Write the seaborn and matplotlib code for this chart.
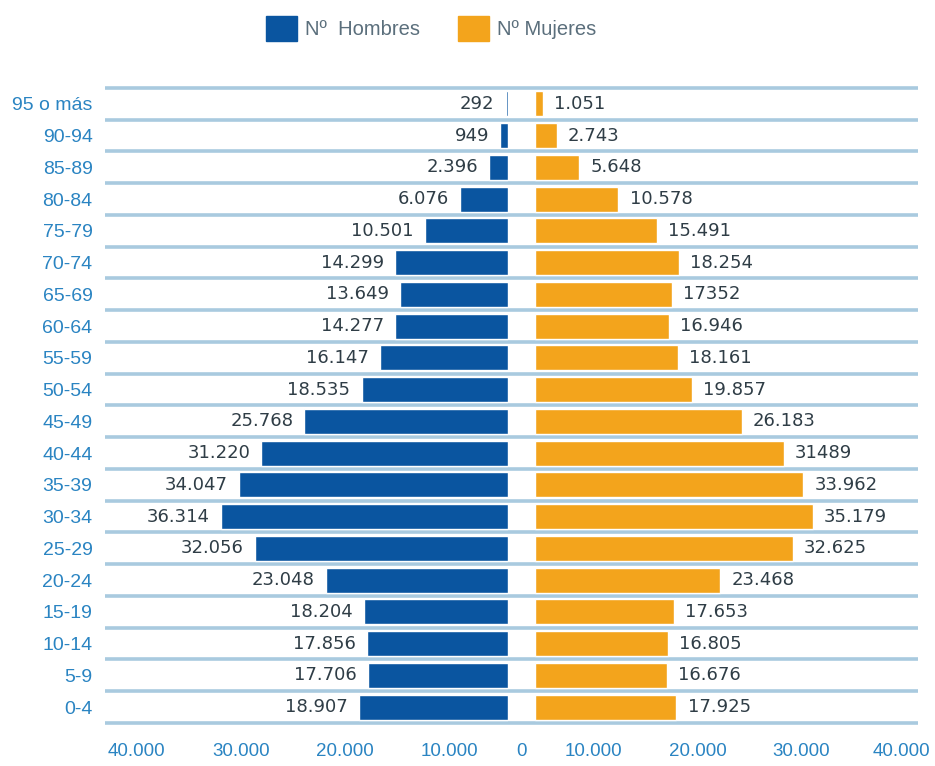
import seaborn as sns
import matplotlib.pyplot as plt
from matplotlib.patches import Patch
import pandas as pd
import numpy as np

# --- data (top row first) ---
edades = ["95 o más", "90-94", "85-89", "80-84", "75-79", "70-74", "65-69",
          "60-64", "55-59", "50-54", "45-49", "40-44", "35-39", "30-34",
          "25-29", "20-24", "15-19", "10-14", "5-9", "0-4"]
hombres = [292, 949, 2396, 6076, 10501, 14299, 13649, 14277, 16147, 18535,
           25768, 31220, 34047, 36314, 32056, 23048, 18204, 17856, 17706, 18907]
mujeres = [1051, 2743, 5648, 10578, 15491, 18254, 17352, 16946, 18161, 19857,
           26183, 31489, 33962, 35179, 32625, 23468, 17653, 16805, 16676, 17925]
sin_punto = {17352, 31489}  # printed without the thousands dot in the source
tick_values = [10000, 20000, 30000, 40000]

df = pd.DataFrame({"edad": edades, "hombres": hombres, "mujeres": mujeres})

AZUL = "#0a55a0"
NARANJA = "#f3a41c"
TXT_EJE = "#2a84c2"
TXT_VAL = "#2f3d46"
LINEA = "#a9cadf"

sns.set_theme(style="white")
plt.rcParams["font.family"] = ["DejaVu Sans"]
sans = ["Liberation Sans", "DejaVu Sans"]

fig = plt.figure(figsize=(9.35, 7.66), dpi=100)
axL = fig.add_axes([0.1123, 0.052, 0.4310, 0.8373])
axR = fig.add_axes([0.5433, 0.052, 0.4385, 0.8373])

# left half grows to the left, right half starts after a small gap
LEFT_MAX = 51000
RIGHT_MIN, RIGHT_MAX = -3400, 48500


def fmt(v):
    return str(v) if v in sin_punto else f"{v:,}".replace(",", ".")


for ax, col, color in [(axL, "hombres", AZUL), (axR, "mujeres", NARANJA)]:
    sns.barplot(data=df, x=col, y="edad", color=color, saturation=1,
                width=0.79, errorbar=None, ax=ax)
    ax.set_ylim(len(edades) - 0.4, -0.6)
    if ax is axL:
        ax.set_xlim(LEFT_MAX, 0)
    else:
        ax.set_xlim(RIGHT_MIN, RIGHT_MAX)
    ax.bar_label(ax.containers[0], labels=[fmt(v) for v in df[col]],
                 padding=8, fontsize=13, color=TXT_VAL)
    ax.set_xlabel("")
    ax.set_ylabel("")
    ax.set_facecolor("none")
    for s in ax.spines.values():
        s.set_visible(False)
    # row separators
    ax.set_yticks(np.arange(-0.5, len(edades), 1), minor=True)
    ax.grid(False)
    ax.grid(which="minor", axis="y", color=LINEA, lw=2.6)
    ax.set_axisbelow(True)
    ax.tick_params(axis="y", which="both", length=0)
    ax.tick_params(axis="x", length=9, width=1, color=LINEA, pad=3,
                   labelsize=13.5, labelcolor=TXT_EJE)

# the source axis is not to scale with its bars: ticks go where it draws them
tick_pos = [v * 1.319 - 5800 for v in tick_values]
tick_txt = [f"{v:,}".replace(",", ".") for v in tick_values]
axL.set_xticks(tick_pos, tick_txt)
axR.set_xticks([RIGHT_MIN / 2] + tick_pos[:-1] + [tick_pos[-1] - 500],
               ["0"] + tick_txt)
axR.set_yticks(range(len(edades)), [""] * len(edades))

axL.set_yticks(range(len(edades)), edades)
axL.tick_params(axis="y", pad=9, labelsize=14, labelcolor=TXT_EJE)
for t in axL.get_yticklabels() + axL.get_xticklabels() + axR.get_xticklabels():
    t.set_family(sans)

leg = fig.legend(handles=[Patch(color=AZUL), Patch(color=NARANJA)],
                 labels=["Nº  Hombres", "Nº Mujeres"], loc="center",
                 bbox_to_anchor=(0.461, 0.963), ncol=2, frameon=False,
                 handlelength=1.55, handleheight=1.55, handletextpad=0.4,
                 columnspacing=1.9, fontsize=14.5)
for t in leg.get_texts():
    t.set_color("#5b6f7c")
    t.set_family(sans)

fig.savefig("out.png", dpi=100)
